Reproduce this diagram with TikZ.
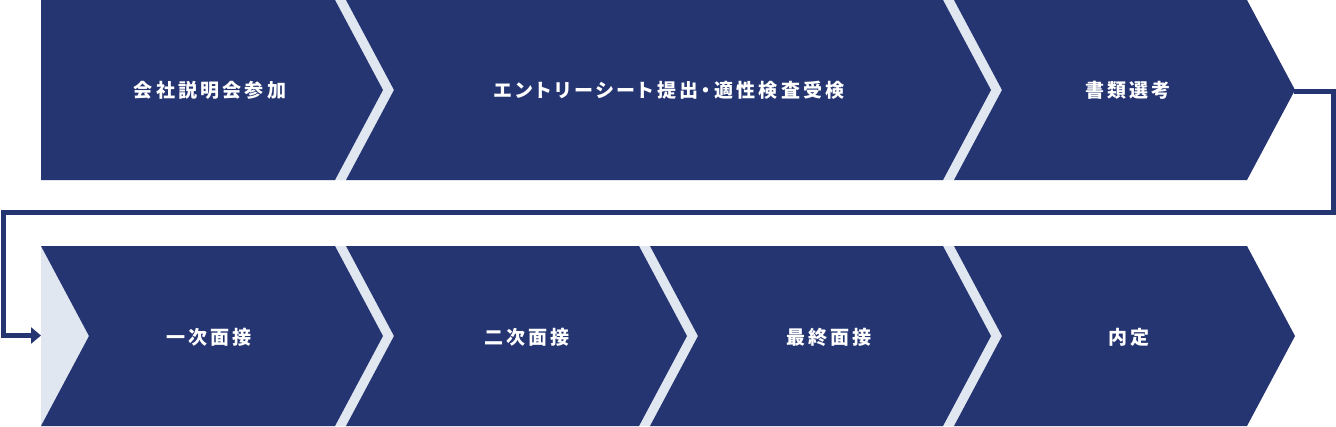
\documentclass[tikz,border=0pt]{standalone}
\usepackage{fontspec}
\newfontfamily\jpfont[LetterSpace=17,RawFeature=+palt]{Noto Sans CJK JP}
\usetikzlibrary{arrows.meta}
\definecolor{navy}{HTML}{253572}
\definecolor{pale}{HTML}{E1E7F0}
\begin{document}
\begin{tikzpicture}[x=1bp,y=-1bp,
  chev/.style={fill=navy},
  gapfill/.style={fill=pale},
  lbl/.style={text=white,inner sep=0pt,font=\jpfont\bfseries\fontsize{19bp}{22bp}\selectfont},
  flow/.style={draw=navy,line width=4.5bp,line join=miter,-{Triangle[length=10bp,width=16bp]}}]
\useasboundingbox (0,0) rectangle (1336,426);
% top row
\fill[gapfill] (41,0) -- (954,0) -- (1002,90) -- (954,180) -- (41,180) -- cycle;
\fill[chev] (41,0) -- (335,0) -- (383,90) -- (335,180) -- (41,180) -- cycle;
\fill[chev] (346,0) -- (943,0) -- (991,90) -- (943,180) -- (346,180) -- (394,90) -- cycle;
\fill[chev] (954,0) -- (1247,0) -- (1295,90) -- (1247,180) -- (954,180) -- (1002,90) -- cycle;
% bottom row
\fill[gapfill] (41,246) -- (954,246) -- (1002,336) -- (954,426) -- (41,426) -- cycle;
\fill[chev] (41,246) -- (335,246) -- (383,336) -- (335,426) -- (41,426) -- (89,336) -- cycle;
\fill[chev] (346,246) -- (639,246) -- (687,336) -- (639,426) -- (346,426) -- (394,336) -- cycle;
\fill[chev] (650,246) -- (943,246) -- (991,336) -- (943,426) -- (650,426) -- (698,336) -- cycle;
\fill[chev] (954,246) -- (1247,246) -- (1295,336) -- (1247,426) -- (954,426) -- (1002,336) -- cycle;
% labels
\node[lbl] (s1) at (210,90) {会社説明会参加};
\node[lbl] (s2) at (669,90) {エントリーシート提出・適性検査受検};
\node[lbl] (s3) at (1128,90) {書類選考};
\node[lbl] (s4) at (209,337) {一次面接};
\node[lbl] (s5) at (527,337) {二次面接};
\node[lbl] (s6) at (829,337) {最終面接};
\node[lbl] (s7) at (1129,337) {内定};
% connector
\coordinate (ctip) at (1294,91.5);
\coordinate (dleft) at (41,335.5);
\draw[flow] (ctip) -- (1333.5,91.5) -- (1333.5,212.5) -- (3.3,212.5) |- (dleft);
\end{tikzpicture}
\end{document}
